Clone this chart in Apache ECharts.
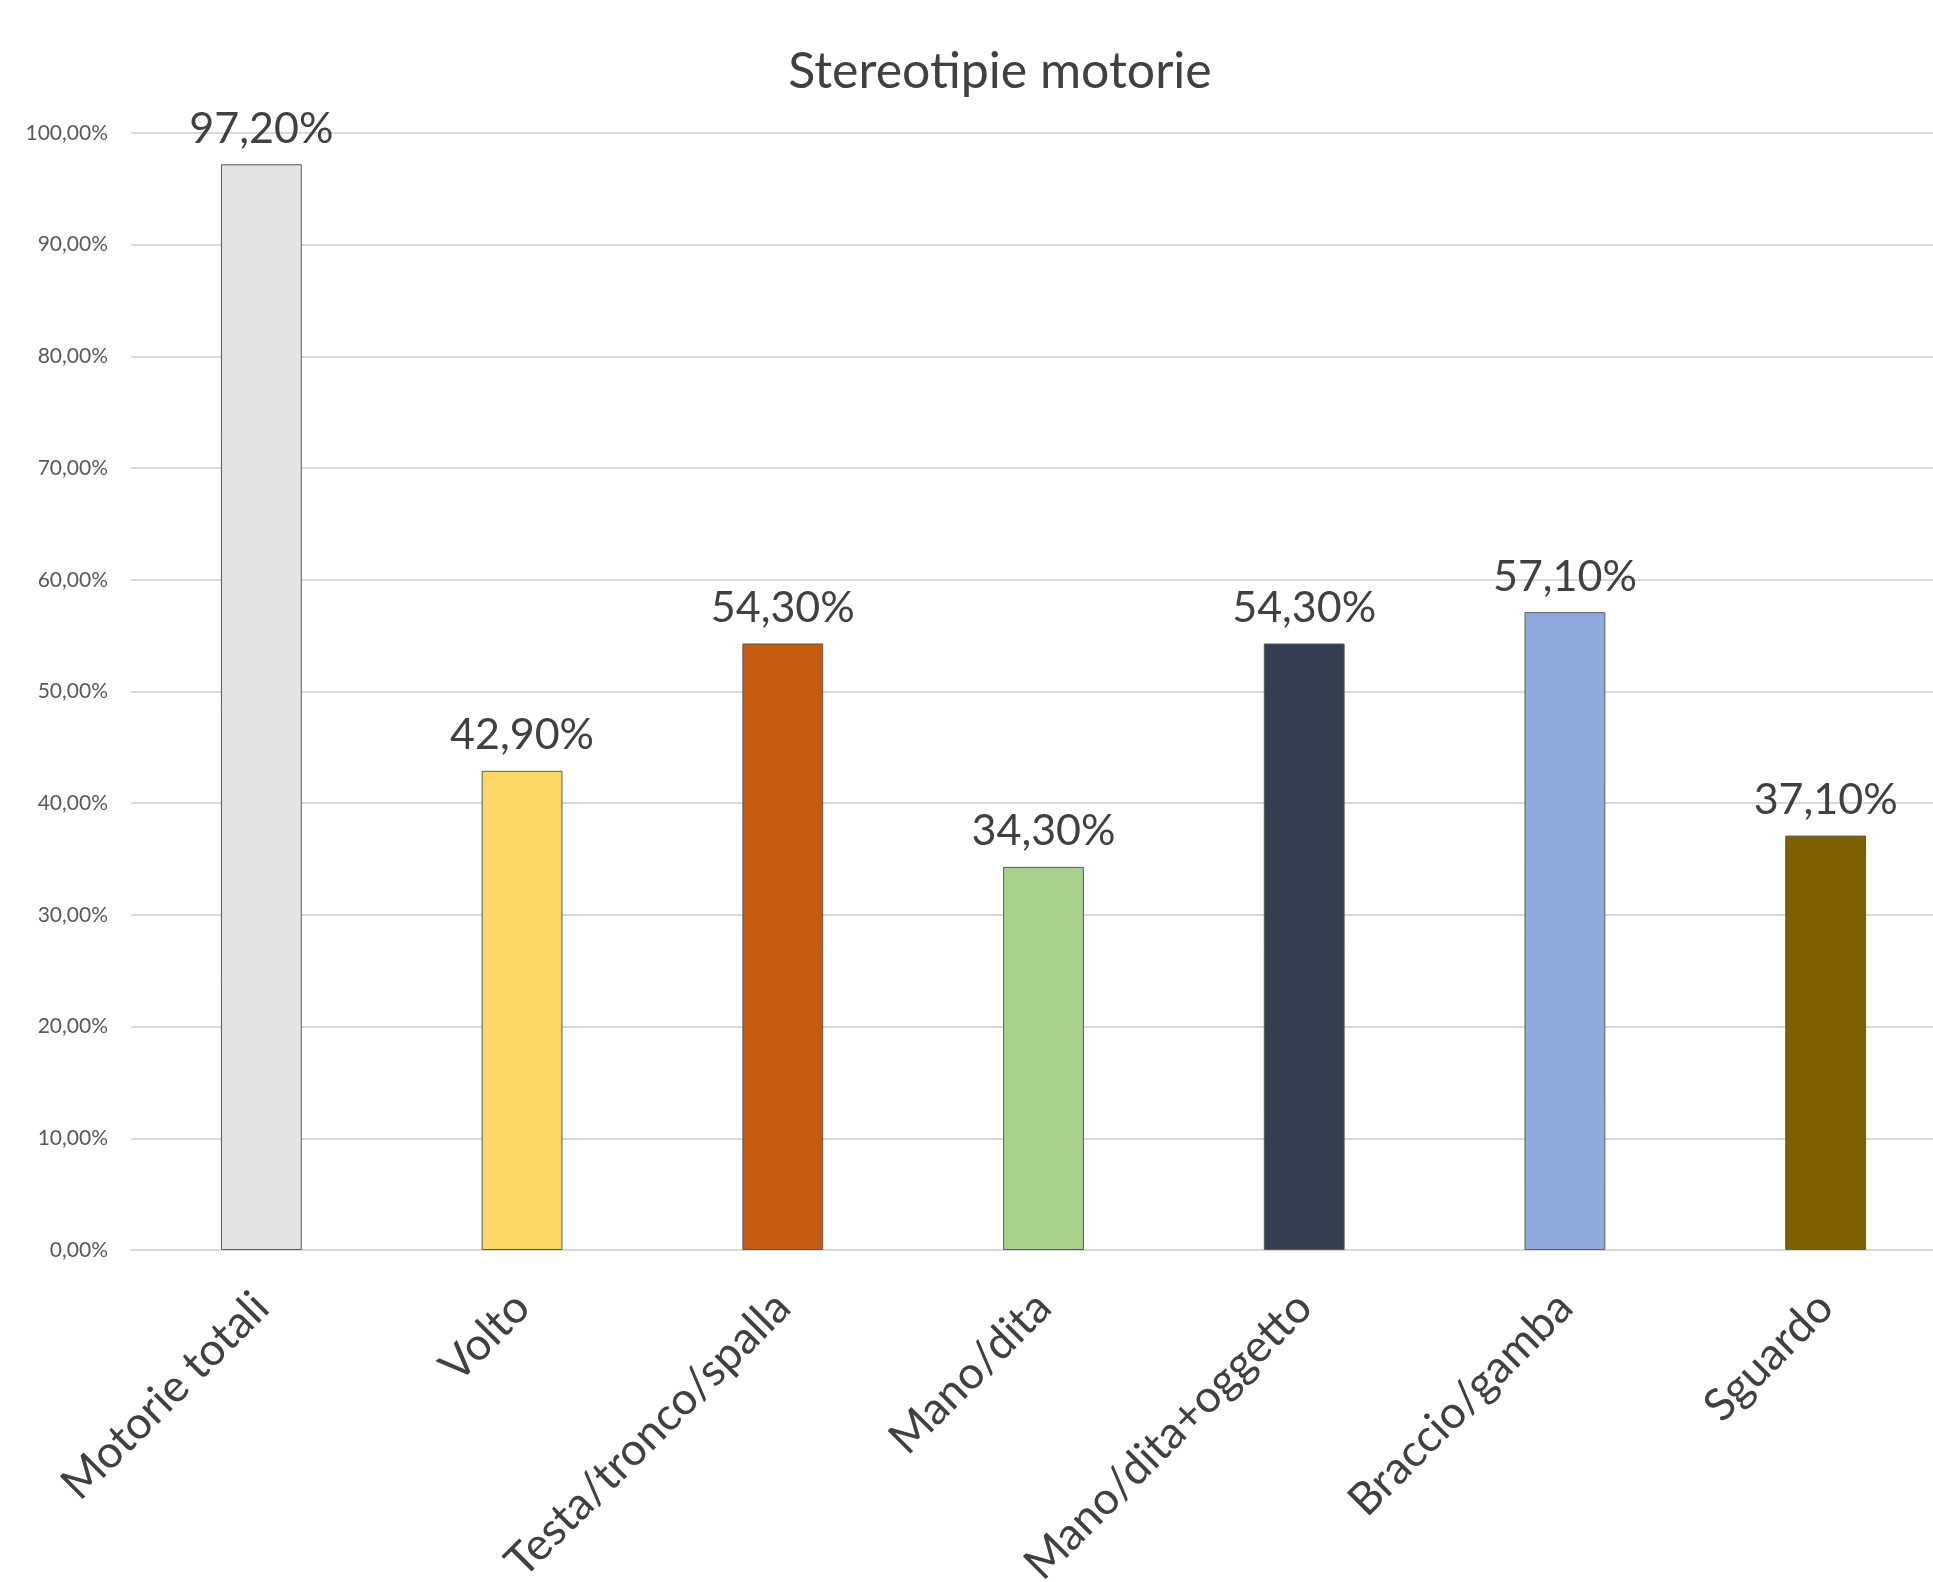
<!DOCTYPE html>
<html>
<head>
<meta charset="utf-8">
<script src="https://cdn.jsdelivr.net/npm/echarts@6/dist/echarts.min.js"></script>
<style>
  html, body { margin: 0; padding: 0; background: #ffffff; }
  #chart { width: 1933px; height: 1582px; }
</style>
</head>
<body>
<div id="chart"></div>
<script>
const title = 'Stereotipie motorie';
const categories = ['Motorie totali', 'Volto', 'Testa/tronco/spalla', 'Mano/dita', 'Mano/dita+oggetto', 'Braccio/gamba', 'Sguardo'];
const values = [97.2, 42.9, 54.3, 34.3, 54.3, 57.1, 37.1];
const barColors = ['#e4e4e4', '#fdd766', '#c55a11', '#a9d18e', '#333f50', '#8faadc', '#7f6000'];
const yMin = 0, yMax = 100, yStep = 10;

const FONT = 'Lato, "Open Sans", sans-serif';
const fmt = v => v.toFixed(2).replace('.', ',') + '%';

const chart = echarts.init(document.getElementById('chart'), null, { renderer: 'canvas' });
chart.setOption({
  backgroundColor: '#ffffff',
  animation: false,
  title: {
    text: title,
    left: 995,
    textAlign: 'center',
    top: 42,
    textStyle: { fontFamily: FONT, fontSize: 50, fontWeight: 'normal', color: '#404040' }
  },
  grid: { left: 131, right: -23, top: 133, bottom: 332, containLabel: false, outerBoundsMode: 'none' },
  xAxis: {
    type: 'category',
    data: categories,
    axisLine: { show: true, lineStyle: { color: '#d9d9d9', width: 2 } },
    axisTick: { show: false },
    axisLabel: {
      interval: 0,
      rotate: 45,
      margin: 50,
      verticalAlign: 'middle',
      fontFamily: FONT,
      fontSize: 45,
      color: '#404040'
    }
  },
  yAxis: {
    type: 'value',
    min: yMin, max: yMax, interval: yStep,
    axisLine: { show: false },
    axisTick: { show: false },
    splitLine: { lineStyle: { color: '#d9d9d9', width: 2 } },
    axisLabel: {
      margin: 23,
      fontFamily: FONT,
      fontSize: 21,
      color: '#595959',
      formatter: v => fmt(v)
    }
  },
  series: [{
    type: 'bar',
    barWidth: '31%',
    data: values.map((v, i) => ({
      value: v,
      itemStyle: { color: barColors[i], borderColor: '#595959', borderWidth: 1 }
    })),
    label: {
      show: true,
      position: 'top',
      distance: 14,
      fontFamily: FONT,
      fontSize: 43,
      color: '#404040',
      formatter: p => fmt(p.value)
    }
  }]
});
</script>
</body>
</html>
